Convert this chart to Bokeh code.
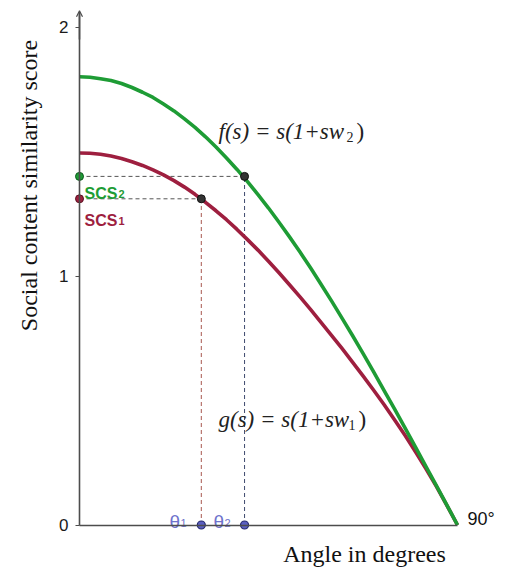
import math
from bokeh.plotting import figure
from bokeh.models import Range1d, LinearAxis, FixedTicker, Arrow, OpenHead
from bokeh.core.properties import value
from bokeh.embed import file_html
from bokeh.resources import INLINE

# ---- data ----
angles = [0, 2.5, 5, 7.5, 10, 12.5, 15, 17.5, 20, 22.5, 25, 27.5, 30, 32.5, 35, 37.5,
          40, 42.5, 45, 47.5, 50, 52.5, 55, 57.5, 60, 62.5, 65, 67.5, 70, 72.5,
          75, 77.5, 80, 82.5, 85, 87.5, 90]
f_vals = [1.80, 1.798, 1.792, 1.785, 1.773, 1.757, 1.738, 1.717, 1.691, 1.663, 1.631, 1.597,
          1.559, 1.518, 1.474, 1.428, 1.379, 1.327, 1.273, 1.216, 1.157, 1.096, 1.033, 0.967,
          0.90, 0.831, 0.761, 0.689, 0.616, 0.541, 0.466, 0.39, 0.313, 0.235, 0.157, 0.079, 0.0]
g_vals = [1.494, 1.493, 1.489, 1.482, 1.472, 1.459, 1.444, 1.426, 1.406, 1.383, 1.357, 1.328,
          1.296, 1.262, 1.226, 1.187, 1.146, 1.104, 1.059, 1.013, 0.965, 0.916, 0.866, 0.814,
          0.762, 0.709, 0.654, 0.599, 0.542, 0.484, 0.423, 0.36, 0.294, 0.226, 0.154, 0.078, 0.0]
theta_pts = [29.0, 39.3]      # theta1, theta2
scs_vals = [1.31, 1.40]       # SCS1, SCS2
y_ticks = [0, 1, 2]
x_end = 90

GREEN = "#1e9c35"
RED = "#9e1f3f"
BLUE = "#6f72cc"
AXIS = "#4d4d4d"

# pixel -> data helpers (layout only)
def dx(px):
    return (px - 79) / 4.2

def dy(py):
    return (524.5 - py) / 249.0

W, H = 505, 571
p = figure(width=W, height=H, output_backend="svg", toolbar_location=None,
           x_range=Range1d(dx(0), dx(W)), y_range=Range1d(dy(H), dy(0)),
           x_axis_type=None, y_axis_type=None, min_border=0, title=None)
p.outline_line_color = None
p.background_fill_color = "white"
p.border_fill_color = "white"

# axes
yax = LinearAxis(fixed_location=0, bounds=(0, 2.06), ticker=FixedTicker(ticks=y_ticks),
                 axis_line_color=AXIS, axis_line_width=1.6,
                 major_tick_line_color=AXIS, major_tick_in=0, major_tick_out=4,
                 minor_tick_line_color=None, major_label_standoff=7,
                 major_label_text_font="Liberation Sans",
                 major_label_text_font_size="17px", major_label_text_color="#1a1a1a")
p.add_layout(yax, "left")
xax = LinearAxis(fixed_location=0, bounds=(0, x_end), ticker=FixedTicker(ticks=[]),
                 axis_line_color=AXIS, axis_line_width=1.6,
                 major_tick_line_color=None, minor_tick_line_color=None,
                 major_label_text_font_size="0px")
p.add_layout(xax, "below")
p.add_layout(Arrow(end=OpenHead(size=6, line_color=AXIS, line_width=1.2),
                   x_start=0, y_start=1.95, x_end=0, y_end=2.065,
                   line_color=AXIS, line_width=1.6))

# dashed guide lines
p.segment(x0=[0, 0], y0=scs_vals, x1=theta_pts, y1=scs_vals,
          line_color="#555555", line_width=1, line_dash="4 3")
p.segment(x0=theta_pts, y0=[0, 0], x1=theta_pts, y1=scs_vals,
          line_color=["#a8584f", "#3e4a6e"], line_width=1, line_dash="4 3")

# curves
p.line(angles, g_vals, line_color=RED, line_width=3.6, line_join="round")
p.line(angles, f_vals, line_color=GREEN, line_width=3.6, line_join="round")

# points
p.scatter([0, 0], scs_vals, size=8, fill_color=[RED, GREEN],
          line_color=["#5a1020", "#0e5a1e"], line_width=1)
p.scatter(theta_pts, scs_vals, size=8, fill_color="#333333", line_color="#111111")
p.scatter(theta_pts, [0, 0], size=8, fill_color="#5b5fc0", line_color="#262a70", line_width=1.2)

serif = value("Liberation Serif")
sans = value("Liberation Sans")

# axis titles
p.text(x=[dx(28)], y=[dy(185)], text=["Social content similarity score"], angle=math.pi / 2,
       text_font=serif, text_font_size="24px", text_align="center",
       text_baseline="middle", text_color="#111111")
p.text(x=[dx(364)], y=[dy(553)], text=["Angle in degrees"],
       text_font=serif, text_font_size="24px", text_align="center",
       text_baseline="middle", text_color="#111111")

# formulas
p.text(x=[dx(218)], y=[dy(131)], text=["f(s) = s(1+sw"], text_font=serif,
       text_font_style="italic", text_font_size="23px", text_baseline="alphabetic",
       text_color="#222222")
p.text(x=[dx(346)], y=[dy(136)], text=["2"], text_font=serif,
       text_font_size="14px", text_baseline="alphabetic", text_color="#222222")
p.text(x=[dx(356)], y=[dy(131)], text=[")"], text_font=serif,
       text_font_size="23px", text_baseline="alphabetic", text_color="#222222")

p.text(x=[dx(218)], y=[dy(419)], text=["g(s) = s(1+sw"], text_font=serif,
       text_font_style="italic", text_font_size="23px", text_baseline="alphabetic",
       text_color="#222222")
p.text(x=[dx(348)], y=[dy(424)], text=["1"], text_font=serif,
       text_font_size="14px", text_baseline="alphabetic", text_color="#222222")
p.text(x=[dx(358)], y=[dy(419)], text=[")"], text_font=serif,
       text_font_size="23px", text_baseline="alphabetic", text_color="#222222")

# SCS labels
p.text(x=[dx(84)], y=[dy(193)], text=["SCS"], text_font=sans, text_font_style="bold",
       text_font_size="16px", text_baseline="alphabetic", text_color=GREEN)
p.text(x=[dx(118)], y=[dy(193)], text=["2"], text_font=sans, text_font_style="bold",
       text_font_size="11px", text_baseline="alphabetic", text_color=GREEN)
p.text(x=[dx(84)], y=[dy(220)], text=["SCS"], text_font=sans, text_font_style="bold",
       text_font_size="16px", text_baseline="alphabetic", text_color=RED)
p.text(x=[dx(118)], y=[dy(220)], text=["1"], text_font=sans, text_font_style="bold",
       text_font_size="11px", text_baseline="alphabetic", text_color=RED)

# theta labels
p.text(x=[dx(169), dx(213)], y=[dy(521), dy(521)], text=["θ", "θ"], text_font=sans,
       text_font_size="19px", text_baseline="alphabetic", text_color=BLUE)
p.text(x=[dx(180), dx(224)], y=[dy(522), dy(522)], text=["1", "2"], text_font=sans,
       text_font_size="11px", text_baseline="alphabetic", text_color=BLUE)

# 90 degree label
p.text(x=[dx(467)], y=[dy(518)], text=["90°"], text_font=sans,
       text_font_size="18px", text_baseline="middle", text_color="#111111")

open("out.html", "w").write(file_html(p, INLINE))
